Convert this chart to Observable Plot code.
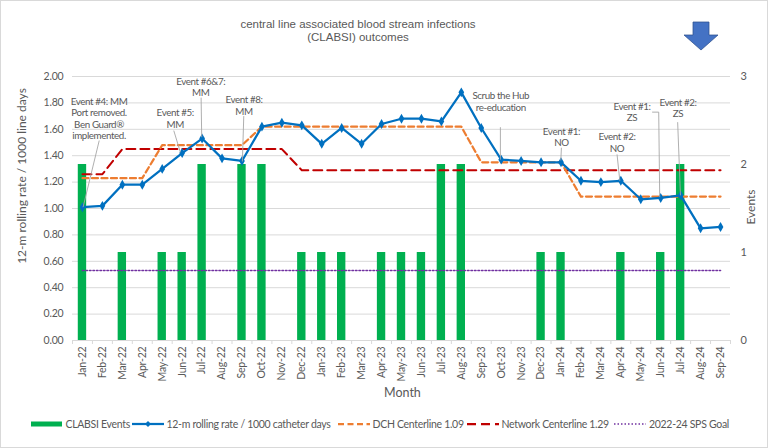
<!DOCTYPE html>
<html><head><meta charset="utf-8">
<script src="https://cdn.jsdelivr.net/npm/d3@7"></script>
<script src="https://cdn.jsdelivr.net/npm/@observablehq/plot@0.6"></script>
<style>
body{margin:0;background:#fff;}
#wrap{position:relative;width:768px;height:448px;overflow:hidden;font-family:Lato,"Open Sans",sans-serif;color:#595959;background:#fff;}
#chart{position:absolute;left:0;top:0;}
#frame{position:absolute;left:0;top:0;width:768px;height:448px;box-sizing:border-box;border:1px solid #d9d9d9;pointer-events:none;}
.title{position:absolute;left:0;width:716px;text-align:center;font-family:"Liberation Sans",Arial,sans-serif;font-size:11.5px;color:#595959;line-height:13px;}
.ylab{position:absolute;white-space:nowrap;font-size:12px;transform:translate(-50%,-50%) rotate(-90deg);}
.lg{position:absolute;top:417px;height:14px;font-size:10.5px;letter-spacing:-0.3px;line-height:14px;white-space:nowrap;}
.lgsw{position:absolute;top:417px;}
#chart g[aria-label="text"] text{letter-spacing:-0.4px;}
#chart g[aria-label="y-axis tick label"] text, #chart g[aria-label="x-axis tick label"] text{letter-spacing:-0.2px;}
</style></head>
<body>
<div id="wrap">
  <div id="chart"></div>
  <div class="title" style="top:18px">central line associated blood stream infections</div>
  <div class="title" style="top:31px">(CLABSI) outcomes</div>
  <svg style="position:absolute;left:0;top:0" width="768" height="60">
    <polygon points="693,22 709,22 709,35 718,35 701,50 684,35 693,35" fill="#4472C4" stroke="#2F528F" stroke-width="0.75"/>
  </svg>
  <div class="ylab" style="left:21px;top:176px">12-m rolling rate / 1000 line days</div>
  <div class="ylab" style="left:750px;top:207px">Events</div>
  <div style="position:absolute;left:384px;top:385px;font-size:12.5px;">Month</div>
  <div id="legend"></div>
  <div id="frame"></div>
</div>
<script>
const months = ["Jan-22","Feb-22","Mar-22","Apr-22","May-22","Jun-22","Jul-22","Aug-22","Sep-22","Oct-22","Nov-22","Dec-22",
  "Jan-23","Feb-23","Mar-23","Apr-23","May-23","Jun-23","Jul-23","Aug-23","Sep-23","Oct-23","Nov-23","Dec-23",
  "Jan-24","Feb-24","Mar-24","Apr-24","May-24","Jun-24","Jul-24","Aug-24","Sep-24"];
const events = [2,0,1,0,1,1,2,0,2,2,0,1,1,1,0,1,1,1,2,2,0,0,0,1,1,0,0,1,0,1,2,0,0];
const rate = [1.01,1.02,1.18,1.18,1.30,1.42,1.53,1.38,1.36,1.62,1.65,1.63,1.49,1.61,1.49,1.64,1.68,1.68,1.66,1.88,1.61,1.37,1.36,1.35,1.35,1.21,1.20,1.21,1.07,1.08,1.10,0.85,0.86];
const dchCenter = [1.23,1.23,1.23,1.23,1.48,1.48,1.48,1.48,1.48,1.62,1.62,1.62,1.62,1.62,1.62,1.62,1.62,1.62,1.62,1.62,1.35,1.35,1.35,1.35,1.35,1.09,1.09,1.09,1.09,1.09,1.09,1.09,1.09];
const networkCenter = [1.26,1.26,1.45,1.45,1.45,1.45,1.45,1.45,1.45,1.45,1.45,1.29,1.29,1.29,1.29,1.29,1.29,1.29,1.29,1.29,1.29,1.29,1.29,1.29,1.29,1.29,1.29,1.29,1.29,1.29,1.29,1.29,1.29];
const spsGoal = 0.53;
const rateTicks = [0,0.2,0.4,0.6,0.8,1.0,1.2,1.4,1.6,1.8,2.0];
const eventTicks = [0,1,2,3];
const eventMax = 3;

// annotations (x in month index, y in rate units)
const annLabel = ["Event #4: MM\nPort removed.\nBen Guard®\nimplemented.","Event #5:\nMM","Event #6&7:\nMM","Event #8:\nMM",
  "Scrub the Hub\nre-education","Event #1:\nNO","Event #2:\nNO","Event #1:\nZS","Event #2:\nZS"];
const annX = [0.83,4.65,5.93,8.1,20.98,24.02,26.81,27.56,29.87];
const annY = [1.85,1.76,2.00,1.86,1.89,1.62,1.58,1.81,1.84];
const leadX1 = [0.84,4.58,5.95,8.09,20.96,24.02,26.81,28.57,28.9,29.85];
const leadY1 = [1.515,1.59,1.84,1.70,1.616,1.46,1.41,1.73,1.73,1.654];
const leadX2 = [0.03,4.91,5.98,8.02,20.96,23.99,26.95,28.9,28.95,29.99];
const leadY2 = [1.01,1.426,1.54,1.356,1.37,1.364,1.21,1.73,1.086,1.10];

const idx = months.map((_, i) => i);
const toRate = e => e * 2 / eventMax;
const barData = idx.map(i => ({i, e: events[i]})).filter(d => d.e > 0);
const ann = annLabel.map((t, k) => ({t, x: annX[k], y: annY[k]}));
const leads = leadX1.map((_, k) => ({x1: leadX1[k], y1: leadY1[k], x2: leadX2[k], y2: leadY2[k]}));

const plot = Plot.plot({
  width: 768, height: 448,
  marginLeft: 72, marginRight: 38, marginTop: 76, marginBottom: 108,
  style: {fontFamily: "Lato, sans-serif", fontSize: "10.5px", color: "#595959", background: "transparent"},
  x: {domain: [-0.5, months.length - 0.5]},
  y: {domain: [0, 2]},
  marks: [
    Plot.gridY(rateTicks.slice(1), {stroke: "#d9d9d9", strokeOpacity: 1}),
    Plot.axisY({ticks: rateTicks, tickFormat: d3.format(".2f"), tickSize: 0, tickPadding: 9, label: null}),
    Plot.axisY({anchor: "right", ticks: eventTicks.map(toRate), tickFormat: d => String(Math.round(d * eventMax / 2)), tickSize: 0, tickPadding: 10, label: null, fontSize: 11}),
    Plot.ruleY([0], {stroke: "#d9d9d9"}),
    Plot.axisX({ticks: d3.range(-0.5, months.length, 1), tickSize: 4, tickFormat: () => "", stroke: "#d9d9d9", label: null}),
    Plot.axisX({ticks: idx, tickFormat: i => months[i], tickRotate: -90, tickSize: 0, tickPadding: 6, label: null}),
    Plot.rectY(barData, {x1: d => d.i - 0.21, x2: d => d.i + 0.21, y1: 0, y2: d => toRate(d.e), fill: "#00B050"}),
    Plot.lineY(idx, {x: i => i, y: () => spsGoal, stroke: "#7030A0", strokeWidth: 1.6, strokeDasharray: "1.5,2"}),
    Plot.lineY(idx, {x: i => i, y: i => networkCenter[i], stroke: "#C00000", strokeWidth: 2, strokeDasharray: "9,5"}),
    Plot.lineY(idx, {x: i => i, y: i => dchCenter[i], stroke: "#ED7D31", strokeWidth: 2.25, strokeDasharray: "6,3.5"}),
    Plot.lineY(idx, {x: i => i, y: i => rate[i], stroke: "#0070C0", strokeWidth: 2.25}),
    Plot.dot(idx, {x: i => i, y: i => rate[i], symbol: "diamond", r: 3, fill: "#0070C0"}),
    Plot.link(leads, {x1: "x1", y1: "y1", x2: "x2", y2: "y2", stroke: "#a6a6a6", strokeWidth: 0.9}),
    Plot.text(ann, {x: "x", y: "y", text: "t", lineAnchor: "top", lineHeight: 1.18, fontSize: 9.8, fill: "#595959"})
  ]
});
document.getElementById("chart").appendChild(plot);

// legend
const lg = document.getElementById("legend");
const items = [
  {sw: 31, tx: 65.5, label: "CLABSI Events", kind: "bar"},
  {sw: 132, tx: 166.5, label: "12-m rolling rate / 1000 catheter days", kind: "rate"},
  {sw: 338, tx: 372.5, label: "DCH Centerline 1.09", kind: "dch"},
  {sw: 467, tx: 501.5, label: "Network Centerline 1.29", kind: "net"},
  {sw: 614, tx: 649, label: "2022-24 SPS Goal", kind: "sps"}
];
for (const it of items) {
  let sw;
  if (it.kind === "bar") sw = `<rect x="0" y="4.5" width="31" height="5" fill="#00B050"/>`;
  if (it.kind === "rate") sw = `<line x1="0" x2="32" y1="7" y2="7" stroke="#0070C0" stroke-width="2.25"/><path d="M16,4 L19,7 L16,10 L13,7Z" fill="#0070C0"/>`;
  if (it.kind === "dch") sw = `<line x1="0" x2="32" y1="7" y2="7" stroke="#ED7D31" stroke-width="2.25" stroke-dasharray="6,3.5"/>`;
  if (it.kind === "net") sw = `<line x1="0" x2="32" y1="7" y2="7" stroke="#C00000" stroke-width="2.25" stroke-dasharray="9,5"/>`;
  if (it.kind === "sps") sw = `<line x1="0" x2="32" y1="7" y2="7" stroke="#7030A0" stroke-width="1.6" stroke-dasharray="1.5,2"/>`;
  lg.insertAdjacentHTML("beforeend", `<svg class="lgsw" style="left:${it.sw}px" width="34" height="14">${sw}</svg><div class="lg" style="left:${it.tx}px">${it.label}</div>`);
}
</script>
</body></html>
